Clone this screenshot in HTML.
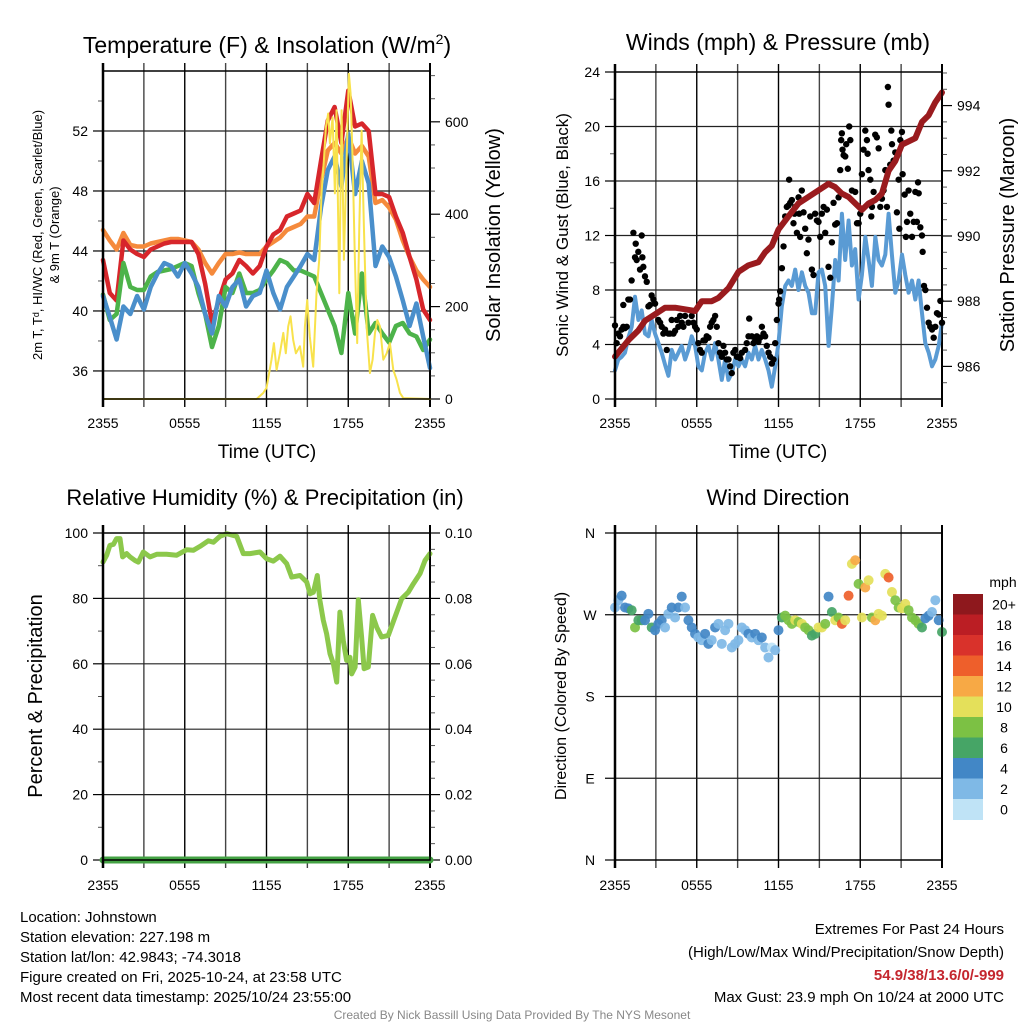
<!DOCTYPE html>
<html><head><meta charset="utf-8"><style>
html,body{margin:0;padding:0;background:#fff;}
svg{display:block;font-family:"Liberation Sans",Arial,sans-serif;}
</style></head><body>
<svg id="chart" width="1024" height="1024" viewBox="0 0 1024 1024" xmlns="http://www.w3.org/2000/svg"></svg>
<script>
// ---------- DATA ----------
const timeTicks = [0, 6, 12, 18, 24];
const timeTickLabels = ["2355", "0555", "1155", "1755", "2355"];

const temp2m = [43.4,41.2,40.7,44.7,44.1,43.8,43.6,44.1,44.3,44.5,44.6,44.6,44.6,44.6,43.8,41.8,39.2,40.7,42.1,42.5,43.4,43.0,42.5,43.0,44.3,45.1,45.4,46.3,46.5,46.7,47.8,47.2,50.0,52.7,53.6,51.2,54.7,52.3,52.5,52.0,47.8,47.8,47.6,46.3,45.2,43.6,42.1,40.1,39.4];
const temp9m = [45.4,44.7,44.1,45.2,44.4,44.3,44.3,44.5,44.6,44.7,44.8,44.8,44.7,44.6,44.1,43.2,42.5,43.2,43.8,43.8,43.9,43.8,43.8,43.8,44.3,44.6,44.9,45.4,45.6,45.8,46.3,46.3,48.7,50.7,51.2,50.5,51.6,50.5,51.0,50.3,47.2,47.4,46.9,46.1,44.7,43.6,42.7,42.1,41.6];
const dewpoint = [41.1,39.4,39.8,43.2,41.6,41.4,41.4,42.3,42.6,42.7,42.8,43.0,43.2,43.0,41.2,39.8,37.6,39.0,41.6,41.2,42.5,41.2,41.2,41.4,42.1,42.7,43.4,43.2,42.7,42.7,42.5,42.3,41.2,40.1,39.0,37.2,41.2,38.5,42.5,38.5,39.2,38.5,37.9,39.0,39.2,38.5,38.3,37.4,38.1];
const heatIndex = [41.0,39.6,38.1,40.3,39.8,41.0,40.1,41.6,42.5,43.2,43.0,42.3,43.2,42.5,41.6,39.8,38.5,41.0,40.3,41.6,42.1,40.3,41.0,41.2,42.7,41.2,40.1,41.6,42.3,43.0,43.8,43.4,46.9,49.4,50.3,48.3,51.8,47.8,50.0,48.5,43.0,44.3,43.6,42.3,40.7,39.0,40.5,38.3,36.2];
const solarTime = [0,11.27,11.76,12.0,12.37,12.54,12.74,12.98,13.23,13.42,13.59,13.76,13.96,14.16,14.45,14.69,14.82,14.99,15.18,15.43,15.67,15.87,16.04,16.21,16.36,16.53,16.65,16.85,17.02,17.14,17.34,17.51,17.68,17.88,18.05,18.17,18.32,18.49,18.66,18.81,18.98,19.15,19.35,19.59,19.79,19.96,20.13,20.33,20.57,20.82,21.06,21.31,21.55,21.8,22.04,24];
const solarVal = [0,0,13,24,85,121,63,99,143,99,157,179,128,99,114,70,157,214,135,70,229,301,445,517,589,618,553,610,445,625,229,625,301,517,704,661,517,301,121,373,581,373,157,56,85,143,171,157,85,99,121,63,42,13,2,0];

const windSpeed = [2.1,2.9,3.1,3.4,4.5,5.3,7.5,5.8,6.5,4.8,4.6,5.8,4.8,4.1,3.4,2.5,1.7,3.6,2.9,3.4,3.9,2.9,3.6,4.6,3.9,2.4,2.1,3.4,3.9,2.9,4.1,2.9,1.4,2.9,1.4,1.9,2.9,2.4,2.9,2.4,3.4,2.9,3.9,2.9,3.6,2.9,2.1,0.9,2.4,4.1,6.8,8.3,8.7,8.3,9.5,8.0,9.3,8.3,7.8,6.3,6.3,9.3,9.5,8.3,3.9,6.8,10.2,8.7,13.6,10.2,13.1,9.8,11.0,7.3,9.1,11.9,10.2,8.3,11.9,10.2,9.8,10.6,13.6,10.6,7.8,8.7,10.6,9.1,7.8,8.7,7.3,8.7,6.3,4.1,3.4,2.4,2.9,3.9,5.6];
const windDir = [278,286,291,278,277,275,256,264,264,264,271,256,253,260,264,256,271,278,267,278,290,278,264,256,249,245,242,249,238,242,256,260,238,253,260,234,238,242,256,253,249,245,249,242,245,234,223,234,231,253,267,269,264,260,264,262,260,256,253,247,249,256,256,260,290,273,264,267,260,264,291,326,330,304,267,300,308,267,264,271,269,315,311,295,286,278,277,282,275,267,264,260,256,266,269,273,286,264,251];
const presTime = [0,0.98,1.71,2.2,2.94,3.67,4.41,5.14,5.88,6.37,7.1,7.59,8.33,9.06,9.8,10.53,11.02,11.51,12.0,12.73,13.47,14.2,14.94,15.67,16.16,16.65,17.14,17.63,18.12,18.61,19.1,19.59,20.08,20.57,21.06,21.55,22.04,22.53,23.02,23.51,24];
const presVal = [986.3,986.8,987.1,987.4,987.6,987.8,987.8,987.75,987.7,988.0,988.0,988.1,988.4,988.9,989.1,989.2,989.5,989.7,990.2,990.6,991.0,991.2,991.4,991.6,991.5,991.3,991.2,991.0,990.8,991.0,991.1,991.3,992.0,992.3,992.8,992.9,993.0,993.5,993.7,994.1,994.4];
const gustTime = [0,0.12,0.24,0.37,0.49,0.61,0.73,0.86,0.61,0.98,1.1,1.22,1.35,1.47,1.52,1.59,1.71,1.84,1.96,2.01,2.08,2.2,2.33,2.45,2.57,2.69,2.82,2.94,3.18,3.31,3.43,3.55,3.67,3.8,3.92,4.04,4.16,4.29,4.41,4.53,4.65,4.78,4.9,5.02,5.14,5.39,5.63,5.76,5.88,6.0,6.12,6.24,6.37,6.49,6.61,6.73,6.86,6.98,7.1,7.22,7.35,7.47,7.59,7.71,7.84,7.96,8.08,8.2,8.33,8.45,8.57,8.69,8.82,8.94,9.06,9.18,9.31,9.55,9.67,9.8,9.85,10.04,10.16,10.29,10.41,10.53,10.65,10.78,10.9,11.02,11.14,11.27,11.39,11.51,11.63,11.76,11.88,12.0,12.05,12.12,12.25,12.37,12.49,12.61,12.73,12.78,12.86,12.98,13.1,13.18,13.22,13.35,13.47,13.52,13.59,13.71,13.84,13.96,14.08,14.2,14.33,14.45,14.57,14.69,14.82,14.94,15.06,15.18,15.31,15.43,15.55,15.67,15.8,15.92,16.04,16.16,16.29,16.41,16.53,16.6,16.65,16.7,16.78,16.9,16.97,17.09,17.19,17.27,17.39,17.63,17.76,17.88,18.0,18.12,18.24,18.37,18.49,18.54,18.61,18.74,18.81,18.86,18.98,19.1,19.22,19.35,19.47,19.59,19.71,19.84,19.96,20.03,20.08,20.2,20.28,20.33,20.45,20.57,20.69,20.82,20.87,20.94,21.06,21.11,21.26,21.35,21.43,21.55,21.67,21.8,21.92,22.04,22.16,22.24,22.29,22.41,22.53,22.58,22.68,22.78,22.9,23.02,23.14,23.27,23.39,23.51,23.63,23.76,23.88,24.0];
const gustVal = [5.4,4.1,4.8,4.6,5.1,5.3,5.2,5.3,6.9,7.3,7.3,8.7,12.2,10.4,11.4,10.2,10.8,9.5,12.0,10.4,9.7,9.0,8.6,6.8,6.9,7.6,7.3,7.0,5.8,5.6,5.3,4.8,5.1,3.6,4.8,4.8,5.8,4.8,5.0,5.8,5.3,6.1,5.6,5.3,6.1,5.6,6.1,5.6,5.3,5.1,4.1,3.6,3.4,4.3,4.3,4.6,4.5,5.3,5.6,5.8,6.1,5.3,4.1,3.4,3.1,3.9,3.4,2.9,2.9,2.4,1.9,3.4,3.6,3.1,3.1,3.0,3.4,3.6,4.1,4.6,5.9,4.6,4.1,4.3,4.6,4.2,4.5,5.3,4.8,4.6,3.9,3.4,3.1,2.6,2.9,4.1,5.8,7.0,7.3,7.9,9.6,11.2,13.4,14.1,14.2,16.1,14.4,14.6,12.9,13.6,14.1,12.2,14.8,13.6,11.9,15.3,13.7,12.5,10.7,11.7,13.4,9.5,9.1,13.6,13.1,13.0,11.9,13.6,14.1,12.2,13.9,9.7,8.9,11.5,14.4,12.8,12.9,14.8,16.8,19.0,19.5,18.3,17.9,17.8,18.7,16.9,20.0,19.0,15.3,15.2,12.9,12.9,13.6,16.5,18.3,19.7,19.0,18.0,16.8,16.1,13.4,14.1,15.2,19.4,19.2,18.4,14.1,14.7,15.3,16.8,14.1,22.9,21.6,17.2,19.7,18.7,17.5,18.1,13.7,16.1,12.5,19.0,19.6,16.5,15.0,11.9,13.0,15.3,13.6,11.9,13.0,15.2,13.0,15.9,15.1,12.6,12.0,10.8,8.3,8.0,6.7,5.6,5.3,5.1,4.5,5.3,6.3,6.2,7.2,5.6];

const rhTime = [0,0.27,0.51,0.76,1.0,1.25,1.44,1.74,1.98,2.35,2.59,2.96,3.45,3.94,4.67,5.41,6.14,6.63,7.12,7.73,8.1,8.59,9.08,9.81,10.3,10.79,11.52,12.01,12.5,12.99,13.48,13.85,14.46,14.95,15.19,15.44,15.73,15.92,16.17,16.41,16.66,16.91,17.15,17.39,17.64,17.88,18.13,18.25,18.5,18.74,18.98,19.16,19.47,19.79,20.09,20.45,20.94,21.43,21.92,22.41,22.78,23.27,23.63,24];
const rhVal = [91.1,93.2,96.2,96.5,98.3,98.3,92.7,93.7,92.7,91.6,91.1,94.2,92.7,93.5,93.5,93.2,94.9,94.7,95.9,97.6,97.2,99.0,99.8,99.0,93.7,93.7,94.2,92.1,91.4,92.9,90.6,86.5,87.0,85.0,81.4,81.9,87.0,79.4,73.3,69.2,63.1,60.0,54.4,75.8,67.1,61.0,62.0,56.9,59.0,79.6,68.2,58.5,59.0,74.8,71.2,68.2,68.7,74.3,79.9,81.9,84.5,87.6,91.6,93.7];
const precipTime = [0, 24];
const precipVal = [0, 0];

const speedBinLabels = ["0","2","4","6","8","10","12","14","16","18","20+"];
const speedBinColors = ["#bfe3f6","#7fb9e6","#4287c6","#46a566","#7cc144","#e4e05a","#f7a945","#ee5f2b","#d9322b","#bb1e24","#8e181d"];

// ---------- RENDER ----------
const svg = document.getElementById('chart');
const NS = 'http://www.w3.org/2000/svg';
function mk(tag, attrs, name, parent) {
  const el = document.createElementNS(NS, tag);
  for (const k in attrs) el.setAttribute(k, attrs[k]);
  
  
  (parent || svg).appendChild(el);
  return el;
}
function txt(x, y, s, size, anchor, name, extra) {
  const t = mk('text', Object.assign({x: x, y: y, 'font-size': size, 'text-anchor': anchor || 'middle', fill: '#000'}, extra || {}), name);
  t.textContent = s;
  return t;
}
function vtxt(x, y, s, size, name) {
  return txt(x, y, s, size, 'middle', name, {transform: 'rotate(-90 ' + x + ' ' + y + ')'});
}
function scale(d0, d1, r0, r1) { return v => r0 + (v - d0) * (r1 - r0) / (d1 - d0); }

function timeAxis(p, labelY, name) {
  const X = scale(0, 24, p.x0, p.x1);
  for (let h = 0; h <= 24; h += 3) {
    const x = X(h);
    mk('line', {x1: x, y1: p.y0 - 8, x2: x, y2: p.y1 + 8, stroke: (h % 6 === 0) ? '#000' : '#444', 'stroke-width': (h === 0 || h === 24) ? 2 : 1.4}, name + '-vgrid');
  }
  timeTicks.forEach((h, i) => txt(X(h), labelY, timeTickLabels[i], 14, 'middle', name + '-x-tick-label'));
  return X;
}
function hGrid(p, Y, vals, name) {
  vals.forEach(v => mk('line', {x1: p.x0, y1: Y(v), x2: p.x1, y2: Y(v), stroke: '#222', 'stroke-width': 1.2}, name + '-hgrid'));
}
function leftTicks(p, Y, majors, minors, labels, name) {
  minors.forEach(v => mk('line', {x1: p.x0 - 5, y1: Y(v), x2: p.x0, y2: Y(v), stroke: '#555', 'stroke-width': 1}, name + '-minor-tick'));
  majors.forEach((v, i) => {
    mk('line', {x1: p.x0 - 10, y1: Y(v), x2: p.x0, y2: Y(v), stroke: '#000', 'stroke-width': 1.2}, name + '-major-tick');
    txt(p.x0 - 15, Y(v) + 5, labels[i], 14, 'end', name + '-y-tick-label');
  });
}
function rightTicks(p, Y, majors, minors, labels, name) {
  minors.forEach(v => mk('line', {x1: p.x1, y1: Y(v), x2: p.x1 + 5, y2: Y(v), stroke: '#555', 'stroke-width': 1}, name + '-minor-tick'));
  majors.forEach((v, i) => {
    mk('line', {x1: p.x1, y1: Y(v), x2: p.x1 + 10, y2: Y(v), stroke: '#000', 'stroke-width': 1.2}, name + '-major-tick');
    txt(p.x1 + 15, Y(v) + 5, labels[i], 14, 'start', name + '-y2-tick-label');
  });
}
function frame(p, name) {
  mk('rect', {x: p.x0, y: p.y0, width: p.x1 - p.x0, height: p.y1 - p.y0, fill: 'none', stroke: '#000', 'stroke-width': 1.5}, name + '-frame');
  mk('line', {x1: p.x0, y1: p.y0 - 8, x2: p.x0, y2: p.y1 + 8, stroke: '#000', 'stroke-width': 2.5}, name + '-left-axis');
}
function path(xs, ys, X, Y, color, w, name) {
  let d = '';
  for (let i = 0; i < xs.length; i++) d += (i ? 'L' : 'M') + X(xs[i]).toFixed(1) + ' ' + Y(ys[i]).toFixed(1);
  return mk('path', {d: d, fill: 'none', stroke: color, 'stroke-width': w, 'stroke-linejoin': 'round', 'stroke-linecap': 'round'}, name);
}
function range(a, b, s) { const r = []; for (let v = a; v <= b + 1e-9; v += s) r.push(+v.toFixed(4)); return r; }
const halfHours = temp2m.map((_, i) => i * 0.5);
const windTimes = windSpeed.map((_, i) => i * 24 / (windSpeed.length - 1));

// ---- Panel 1 ----
{
  const p = {x0: 103, x1: 430, y0: 71, y1: 399};
  const X = timeAxis(p, 428, 'temp-panel');
  const Y = scale(34.13, 56, p.y1, p.y0);
  const Ys = scale(0, 710, p.y1, p.y0);
  hGrid(p, Y, [36, 40, 44, 48, 52], 'temp-panel');
  leftTicks(p, Y, [36, 40, 44, 48, 52], [38, 42, 46, 50, 54], ['36','40','44','48','52'], 'temp-axis');
  rightTicks(p, Ys, [0, 200, 400, 600], range(50, 700, 50).filter(v => v % 200), ['0','200','400','600'], 'solar-axis');
  path(halfHours, temp9m, X, Y, '#f58a3c', 4.5, 'temp-9m-line');
  path(halfHours, temp2m, X, Y, '#d7262b', 4.5, 'temp-2m-line');
  path(halfHours, dewpoint, X, Y, '#4db34a', 4.5, 'dewpoint-line');
  path(halfHours, heatIndex, X, Y, '#4a8fcb', 4.5, 'heat-index-line');
  path(solarTime, solarVal, X, Ys, '#f8e24c', 2, 'solar-line');
  frame(p, 'temp-panel');
  const t = txt(267, 53, 'Temperature (F) & Insolation (W/m', 23, 'middle', 'temp-panel-title');
  const sup = document.createElementNS(NS, 'tspan'); sup.setAttribute('dy', '-9'); sup.setAttribute('font-size', '14'); sup.textContent = '2'; t.appendChild(sup);
  const cl = document.createElementNS(NS, 'tspan'); cl.setAttribute('dy', '9'); cl.textContent = ')'; t.appendChild(cl);
  vtxt(42, 235, '2m T, T\u1d48, HI/WC (Red, Green, Scarlet/Blue)', 13, 'temp-axis-title-line1');
  vtxt(59, 235, '& 9m T (Orange)', 13, 'temp-axis-title-line2');
  vtxt(500, 235, 'Solar Insolation (Yellow)', 20, 'solar-axis-title');
  txt(267, 458, 'Time (UTC)', 19, 'middle', 'temp-x-axis-title');
}
// ---- Panel 2 ----
{
  const p = {x0: 615, x1: 942, y0: 72, y1: 399};
  const X = timeAxis(p, 428, 'wind-panel');
  const Y = scale(0, 24, p.y1, p.y0);
  const Yp = scale(985, 995.03, p.y1, p.y0);
  hGrid(p, Y, [4, 8, 12, 16, 20], 'wind-panel');
  leftTicks(p, Y, [0,4,8,12,16,20,24], [2,6,10,14,18,22], ['0','4','8','12','16','20','24'], 'wind-axis');
  rightTicks(p, Yp, [986,988,990,992,994], range(985.5, 995, 0.5).filter(v => !([986,988,990,992,994].includes(v))), ['986','988','990','992','994'], 'pressure-axis');
  path(windTimes, windSpeed, X, Y, '#5a9bd4', 4, 'wind-speed-line');
  gustTime.forEach((t, i) => mk('circle', {cx: X(t), cy: Y(gustVal[i]), r: 3.2, fill: '#000'}, 'gust-point'));
  path(presTime, presVal, X, Yp, '#9a1b1e', 6, 'pressure-line');
  frame(p, 'wind-panel');
  txt(778, 50, 'Winds (mph) & Pressure (mb)', 23, 'middle', 'wind-panel-title');
  vtxt(568, 235, 'Sonic Wind & Gust (Blue, Black)', 17, 'wind-axis-title');
  vtxt(1014, 235, 'Station Pressure (Maroon)', 20, 'pressure-axis-title');
  txt(778, 458, 'Time (UTC)', 19, 'middle', 'wind-x-axis-title');
}
// ---- Panel 3 ----
{
  const p = {x0: 103, x1: 430, y0: 533, y1: 860};
  const X = timeAxis(p, 890, 'rh-panel');
  const Y = scale(0, 100, p.y1, p.y0);
  const Yq = scale(0, 0.1, p.y1, p.y0);
  hGrid(p, Y, [20, 40, 60, 80], 'rh-panel');
  leftTicks(p, Y, [0,20,40,60,80,100], [10,30,50,70,90], ['0','20','40','60','80','100'], 'rh-axis');
  rightTicks(p, Yq, [0,0.02,0.04,0.06,0.08,0.1], [0.005,0.01,0.015,0.025,0.03,0.035,0.045,0.05,0.055,0.065,0.07,0.075,0.085,0.09,0.095], ['0.00','0.02','0.04','0.06','0.08','0.10'], 'precip-axis');
  path(rhTime, rhVal, X, Y, '#8cc84b', 5, 'rh-line');
  path(precipTime, precipVal, X, Yq, '#44a244', 7, 'precip-line');
  frame(p, 'rh-panel');
  txt(265, 505, 'Relative Humidity (%) & Precipitation (in)', 22, 'middle', 'rh-panel-title');
  vtxt(42, 696, 'Percent & Precipitation', 20, 'rh-axis-title');
}
// ---- Panel 4 ----
{
  const p = {x0: 615, x1: 942, y0: 533, y1: 860};
  const X = timeAxis(p, 890, 'dir-panel');
  const Y = scale(0, 360, p.y1, p.y0);
  hGrid(p, Y, [90, 180, 270], 'dir-panel');
  [0, 90, 180, 270, 360].forEach((v, i) => {
    mk('line', {x1: p.x0 - 10, y1: Y(v), x2: p.x0, y2: Y(v), stroke: '#000', 'stroke-width': 1.2}, 'dir-major-tick');
    txt(p.x0 - 25, Y(v) + 5, ['N','E','S','W','N'][i], 14, 'middle', 'dir-tick-label');
  });
  windDir.forEach((d, i) => {
    const bin = Math.min(10, Math.max(0, Math.round(windSpeed[i] / 2)));
    mk('circle', {cx: X(windTimes[i]), cy: Y(d), r: 5, fill: speedBinColors[bin], opacity: 0.92}, 'wind-direction-point');
  });
  frame(p, 'dir-panel');
  txt(778, 505, 'Wind Direction', 22, 'middle', 'dir-panel-title');
  vtxt(566, 696, 'Direction (Colored By Speed)', 16, 'dir-axis-title');
  txt(1003, 587, 'mph', 14, 'middle', 'colorbar-title');
  const bh = 20.5, top = 594;
  for (let i = 0; i < 11; i++) {
    const k = 10 - i;
    mk('rect', {x: 953, y: top + i * bh, width: 30, height: bh + 0.5, fill: speedBinColors[k]}, 'colorbar-box');
    txt(1004, top + i * bh + bh / 2 + 5, speedBinLabels[k], 14, 'middle', 'colorbar-label');
  }
}
// ---- Footer ----
const leftLines = ['Location: Johnstown', 'Station elevation: 227.198 m', 'Station lat/lon: 42.9843; -74.3018', 'Figure created on Fri, 2025-10-24, at 23:58 UTC', 'Most recent data timestamp: 2025/10/24 23:55:00'];
leftLines.forEach((s, i) => txt(20, 922 + i * 20, s, 15, 'start', 'station-info-line'));
txt(1004, 934, 'Extremes For Past 24 Hours', 15, 'end', 'extremes-title');
txt(1004, 957, '(High/Low/Max Wind/Precipitation/Snow Depth)', 15, 'end', 'extremes-subtitle');
txt(1004, 980, '54.9/38/13.6/0/-999', 15, 'end', 'extremes-values', {fill: '#c4262e', 'font-weight': 'bold'});
txt(1004, 1002, 'Max Gust: 23.9 mph On 10/24 at 2000 UTC', 15, 'end', 'max-gust');
txt(512, 1019, 'Created By Nick Bassill Using Data Provided By The NYS Mesonet', 12, 'middle', 'credit', {fill: '#888'});
</script>
</body></html>
